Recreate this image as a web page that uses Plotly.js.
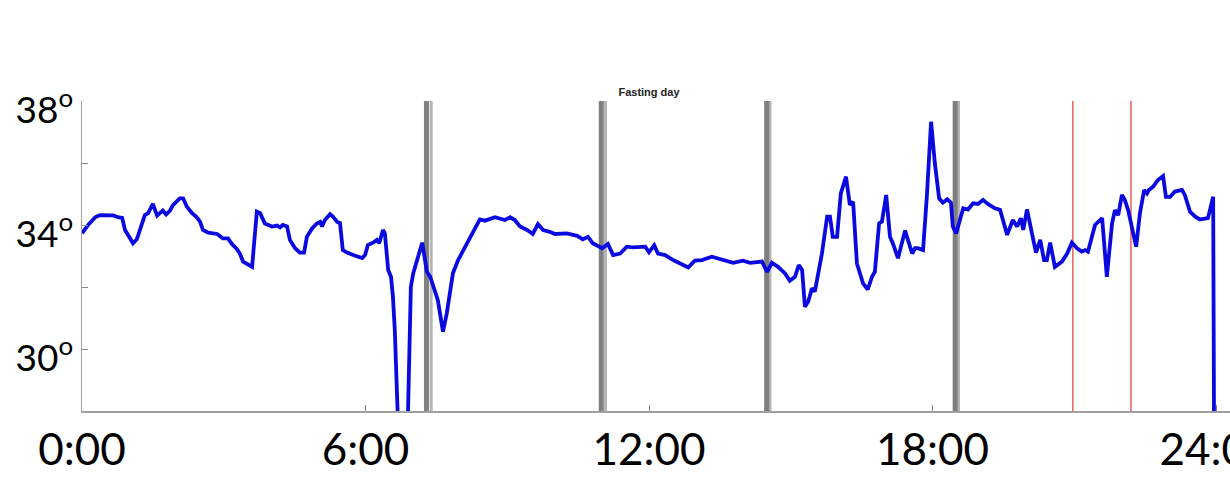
<!DOCTYPE html>
<html>
<head>
<meta charset="utf-8">
<script src="https://cdn.plot.ly/plotly-3.0.1.min.js"></script>
<style>
  html, body { margin: 0; padding: 0; background: #fff; }
  #chart { width: 1230px; height: 477px; }
</style>
</head>
<body>
<div id="chart"></div>
<script>
// Skin temperature over one fasting day, time in decimal hours
const hours = [
  0.00, 0.13, 0.28, 0.38, 0.66, 0.76, 0.85, 0.91, 1.08, 1.16, 1.33, 1.40, 1.50, 1.59, 1.71, 1.78,
  1.86, 1.93, 2.07, 2.14, 2.22, 2.33, 2.43, 2.50, 2.56, 2.67, 2.86, 2.98, 3.09, 3.17, 3.28, 3.34,
  3.41, 3.56, 3.60, 3.70, 3.77, 3.87, 4.02, 4.13, 4.19, 4.25, 4.34, 4.40, 4.51, 4.61, 4.70, 4.76,
  4.87, 4.97, 5.04, 5.08, 5.14, 5.25, 5.31, 5.40, 5.46, 5.52, 5.61, 5.74, 5.93, 5.99, 6.05, 6.16,
  6.24, 6.29, 6.37, 6.41, 6.48, 6.54, 6.58, 6.62, 6.67, 6.77, 6.90, 6.96, 7.01, 7.09, 7.20, 7.30,
  7.37, 7.53, 7.64, 7.72, 7.85, 7.96, 8.15, 8.32, 8.42, 8.53, 8.74, 8.95, 9.06, 9.16, 9.27, 9.42,
  9.54, 9.65, 9.76, 9.90, 10.01, 10.26, 10.48, 10.60, 10.71, 10.81, 11.01, 11.13, 11.24, 11.39, 11.53, 11.66,
  11.92, 12.00, 12.11, 12.19, 12.34, 12.51, 12.70, 12.83, 12.97, 13.12, 13.33, 13.57, 13.78, 13.99, 14.14, 14.39,
  14.50, 14.60, 14.73, 14.88, 14.98, 15.09, 15.17, 15.24, 15.30, 15.37, 15.45, 15.51, 15.66, 15.77, 15.83, 15.89,
  15.98, 16.06, 16.17, 16.25, 16.32, 16.40, 16.53, 16.63, 16.72, 16.78, 16.87, 16.93, 17.02, 17.10, 17.16, 17.27,
  17.42, 17.48, 17.57, 17.63, 17.69, 17.80, 17.88, 17.97, 18.05, 18.14, 18.22, 18.31, 18.39, 18.43, 18.50, 18.58,
  18.65, 18.75, 18.86, 18.96, 19.07, 19.17, 19.32, 19.43, 19.49, 19.58, 19.70, 19.79, 19.87, 19.92, 20.00, 20.11,
  20.19, 20.28, 20.36, 20.42, 20.49, 20.59, 20.74, 20.85, 20.95, 21.06, 21.16, 21.23, 21.29, 21.44, 21.59, 21.69,
  21.80, 21.86, 21.93, 22.01, 22.07, 22.14, 22.22, 22.31, 22.39, 22.48, 22.54, 22.58, 22.67, 22.77, 22.88, 22.94,
  23.03, 23.13, 23.28, 23.34, 23.45, 23.56, 23.66, 23.83, 23.94, 23.96
];
const temperature = [
  33.73, 34.00, 34.25, 34.32, 34.31, 34.25, 34.23, 33.84, 33.41, 33.54, 34.32, 34.38, 34.68, 34.30, 34.47, 34.34,
  34.46, 34.65, 34.86, 34.86, 34.59, 34.38, 34.25, 34.10, 33.84, 33.75, 33.71, 33.57, 33.57, 33.39, 33.22, 33.08,
  32.82, 32.71, 32.65, 34.43, 34.38, 34.05, 33.95, 33.98, 33.92, 34.00, 33.95, 33.52, 33.25, 33.11, 33.11, 33.62,
  33.89, 34.05, 34.10, 33.95, 34.16, 34.35, 34.27, 34.10, 34.06, 33.19, 33.11, 33.03, 32.93, 33.03, 33.35, 33.43,
  33.52, 33.41, 33.84, 33.73, 32.55, 32.33, 31.69, 30.61, 28.00, 24.00, 28.00, 32.01, 32.44, 32.87, 33.43, 32.49,
  32.33, 31.58, 30.56, 31.15, 32.44, 32.87, 33.41, 33.95, 34.18, 34.14, 34.25, 34.16, 34.25, 34.16, 33.95, 33.84,
  33.71, 34.03, 33.84, 33.78, 33.71, 33.73, 33.65, 33.54, 33.62, 33.41, 33.25, 33.39, 33.03, 33.08, 33.30, 33.28,
  33.30, 33.12, 33.35, 33.08, 33.03, 32.87, 32.74, 32.63, 32.85, 32.87, 32.98, 32.87, 32.78, 32.85, 32.78, 32.82,
  32.49, 32.78, 32.65, 32.44, 32.20, 32.33, 32.71, 32.55, 31.36, 31.53, 31.96, 31.85, 33.08, 34.27, 34.27, 33.62,
  33.62, 35.02, 35.56, 34.65, 34.75, 32.76, 32.12, 31.92, 32.33, 32.49, 34.05, 34.11, 34.97, 33.62, 33.41, 32.93,
  33.82, 33.52, 33.08, 33.25, 33.25, 33.19, 34.91, 37.33, 35.99, 34.86, 34.72, 34.83, 34.72, 33.95, 33.73, 34.16,
  34.54, 34.50, 34.70, 34.68, 34.81, 34.68, 34.54, 34.49, 34.16, 33.68, 34.16, 33.95, 34.22, 33.84, 34.50, 33.62,
  33.11, 33.52, 32.87, 32.87, 33.43, 32.65, 32.82, 33.08, 33.43, 33.25, 33.14, 33.19, 33.14, 34.00, 34.22, 32.33,
  34.05, 34.48, 34.32, 34.97, 34.81, 34.48, 33.95, 33.30, 34.38, 35.13, 35.02, 35.13, 35.24, 35.45, 35.58, 34.91,
  34.91, 35.08, 35.13, 34.97, 34.43, 34.27, 34.18, 34.22, 34.91, 27.00
];

// Event markers (hours): meals in grey, with a lighter companion stroke, and two red markers
const greyEvents = [7.29, 10.99, 14.49, 18.48];
const greyCompanions = [7.39, 11.08, 14.56, 18.55];
const redEvents = [20.97, 22.20];

// Axis ticks
const xTickVals = [0, 6, 12, 18, 24];
const xTickText = ['0:00', '6:00', '12:00', '18:00', '24:00'];
const yTickVals = [30, 34, 38];
const yTickText = ['30<sup>o</sup>', '34<sup>o</sup>', '38<sup>o</sup>'];
const yMinorTickVals = [32, 36];

const pxPerHour = 47.25;
const leftMargin = 82;
const plotWidth = 1230 - leftMargin;

const vline = (x, color, width) => ({
  type: 'line', xref: 'x', yref: 'paper', x0: x, x1: x, y0: 0, y1: 1,
  line: { color: color, width: width }, layer: 'below'
});

const shapes = []
  .concat(greyCompanions.map(x => vline(x, '#b4b4b4', 3)))
  .concat(greyEvents.map(x => vline(x, '#7f7f7f', 5)))
  .concat(redEvents.map(x => vline(x, '#e46a66', 1.6)));

const trace = {
  x: hours,
  y: temperature,
  type: 'scatter',
  mode: 'lines',
  line: { color: '#0a0ae0', width: 3.8, shape: 'linear' },
  hoverinfo: 'skip'
};

const layout = {
  width: 1230,
  height: 477,
  margin: { l: leftMargin, r: 0, t: 101, b: 66 },
  paper_bgcolor: '#ffffff',
  plot_bgcolor: '#ffffff',
  showlegend: false,
  title: {
    text: '<b>Fasting day</b>',
    font: { family: 'Liberation Sans, Arial, sans-serif', size: 11, color: '#222' },
    xref: 'container', yref: 'container',
    x: 649 / 1230, y: 1 - 92 / 477,
    xanchor: 'center', yanchor: 'middle'
  },
  xaxis: {
    range: [0, plotWidth / pxPerHour],
    tickvals: xTickVals,
    ticktext: xTickText,
    ticks: 'inside',
    ticklen: 6,
    tickcolor: '#888',
    tickwidth: 1,
    showline: true,
    linecolor: '#a0a0a0',
    linewidth: 1.5,
    showgrid: false,
    zeroline: false,
    ticklabelstandoff: 0,
    ticklabeloverflow: 'allow',
    tickfont: { family: 'Lato, sans-serif', size: 44, color: '#000' },
    fixedrange: true
  },
  yaxis: {
    range: [28, 38],
    tickvals: yTickVals,
    ticktext: yTickText,
    ticks: 'inside',
    ticklen: 6,
    tickcolor: '#888',
    tickwidth: 1,
    minor: { tickmode: 'array', tickvals: yMinorTickVals, ticks: 'inside', ticklen: 6, tickcolor: '#888', tickwidth: 1 },
    showline: true,
    linecolor: '#a0a0a0',
    linewidth: 1.5,
    showgrid: false,
    zeroline: false,
    ticklabelshift: 9,
    tickfont: { family: 'Lato, sans-serif', size: 37, color: '#000' },
    fixedrange: true
  },
  shapes: shapes
};

Plotly.newPlot('chart', [trace], layout, { displayModeBar: false, staticPlot: true });
</script>
</body>
</html>
